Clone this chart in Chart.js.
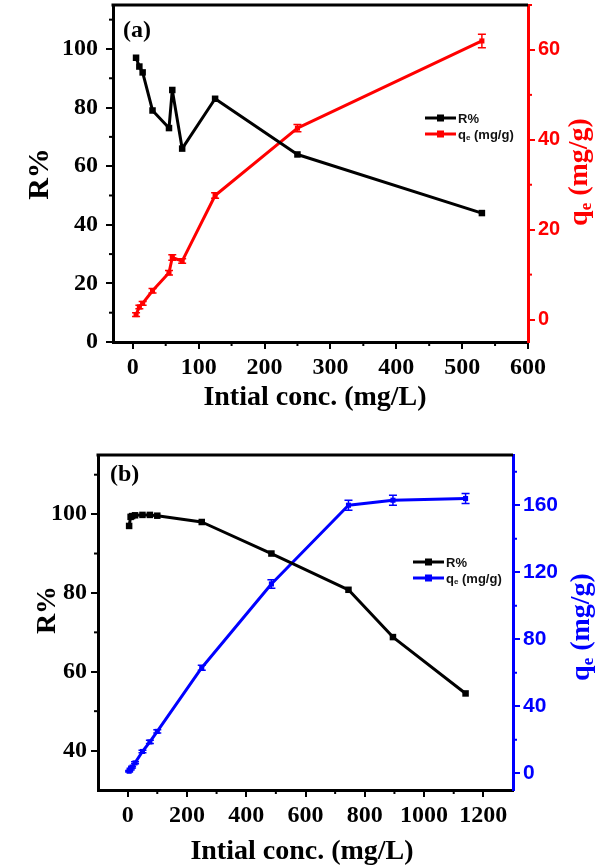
<!DOCTYPE html>
<html>
<head>
<meta charset="utf-8">
<script src="https://cdn.jsdelivr.net/npm/chart.js@4.4.1/dist/chart.umd.min.js"></script>
<style>
  body { margin: 0; background: #fff; }
  canvas { position: absolute; left: 0; }
  #chartA { top: 0; }
  #chartB { top: 420px; }
</style>
</head>
<body>
<canvas id="chartA" width="610" height="420"></canvas>
<canvas id="chartB" width="610" height="448"></canvas>
<script>
/* eslint-disable no-undef */
// datos del panel (a)
const concA = [5, 10, 15, 30, 55, 60, 75, 125, 250, 530]
const removalA = [97, 94, 92, 79, 73, 86, 66, 83, 64, 44]
const qeA = [1.1, 2.8, 3.6, 6.4, 10.4, 13.8, 13, 27.6, 42.6, 62]
const qeErrA = [0.4, 0.4, 0.4, 0.5, 0.5, 0.6, 0.5, 0.6, 0.8, 1.5]

// datos del panel (b)
const concB = [5, 10, 15, 25, 50, 75, 100, 250, 485, 745, 895, 1140]
const removalB = [97, 99.3, 99.5, 99.7, 99.8, 99.8, 99.6, 98, 90, 80.8, 68.8, 54.5]
const qeB = [1.2, 2.5, 3.7, 6.2, 13, 18.7, 25, 63, 113, 160, 163, 164]
const qeErrB = [0.5, 0.5, 0.5, 0.6, 0.8, 1, 1, 1.5, 2.5, 3, 3, 3]

// marcas de los ejes
const xTicksA = [0, 100, 200, 300, 400, 500, 600]
const xMinorA = [50, 150, 250, 350, 450, 550]
const yTicksA = [0, 20, 40, 60, 80, 100]
const yMinorA = [10, 30, 50, 70, 90, 110]
const y1TicksA = [0, 20, 40, 60]
const y1MinorA = [10, 30, 50, 70]

const xTicksB = [0, 200, 400, 600, 800, 1000, 1200]
const xMinorB = [100, 300, 500, 700, 900, 1100]
const yTicksB = [40, 60, 80, 100]
const yMinorB = [50, 70, 90, 110]
const y1TicksB = [0, 40, 80, 120, 160]
const y1MinorB = [20, 60, 100, 140, 180]

const serif = "'Liberation Serif', 'Times New Roman', serif"
const sans = "'Liberation Sans', Arial, sans-serif"

// dibuja "q" con subindice "e" y el resto del texto
function drawQe (ctx, x, y, size, font, rest) {
  ctx.font = `bold ${size}px ${font}`
  ctx.fillText('q', x, y)
  const wq = ctx.measureText('q').width
  ctx.font = `bold ${Math.round(size * 0.6)}px ${font}`
  ctx.fillText('e', x + wq, y + size * 0.22)
  const we = ctx.measureText('e').width
  ctx.font = `bold ${size}px ${font}`
  ctx.fillText(rest, x + wq + we, y)
}
function widthQe (ctx, size, font, rest) {
  ctx.font = `bold ${size}px ${font}`
  const a = ctx.measureText('q').width + ctx.measureText(rest).width
  ctx.font = `bold ${Math.round(size * 0.6)}px ${font}`
  return a + ctx.measureText('e').width
}

const extras = {
  id: 'extras',
  afterDatasetsDraw (chart) {
    const ctx = chart.ctx
    const x = chart.scales.x
    const y1 = chart.scales.y1
    chart.data.datasets.forEach(ds => {
      if (!ds.errorBars) return
      ctx.save()
      ctx.strokeStyle = ds.borderColor
      ctx.lineWidth = 1.5
      ds.data.forEach((p, i) => {
        const px = x.getPixelForValue(p.x)
        const hi = y1.getPixelForValue(p.y + ds.errorBars[i])
        const lo = y1.getPixelForValue(p.y - ds.errorBars[i])
        ctx.beginPath()
        ctx.moveTo(px, hi); ctx.lineTo(px, lo)
        ctx.moveTo(px - 4, hi); ctx.lineTo(px + 4, hi)
        ctx.moveTo(px - 4, lo); ctx.lineTo(px + 4, lo)
        ctx.stroke()
      })
      ctx.restore()
    })
  },
  afterDraw (chart, args, o) {
    const ctx = chart.ctx
    const { left, right, top, bottom } = chart.chartArea
    const sx = chart.scales.x
    const sy = chart.scales.y
    const sy1 = chart.scales.y1
    ctx.save()
    // borde superior
    ctx.strokeStyle = '#000'
    ctx.lineWidth = 3
    ctx.beginPath()
    ctx.moveTo(left - 1.5, top)
    ctx.lineTo(right, top)
    ctx.stroke()
    // marcas menores
    ctx.lineWidth = 2
    o.minorX.forEach(v => {
      const p = sx.getPixelForValue(v)
      ctx.beginPath(); ctx.moveTo(p, bottom); ctx.lineTo(p, bottom + 4); ctx.stroke()
    })
    o.minorY.forEach(v => {
      const p = sy.getPixelForValue(v)
      ctx.beginPath(); ctx.moveTo(left, p); ctx.lineTo(left - 4, p); ctx.stroke()
    })
    ctx.strokeStyle = o.color
    o.minorY1.forEach(v => {
      const p = sy1.getPixelForValue(v)
      ctx.beginPath(); ctx.moveTo(right, p); ctx.lineTo(right + 4, p); ctx.stroke()
    })

    // titulos de los ejes
    ctx.fillStyle = '#000'
    ctx.textBaseline = 'middle'
    ctx.textAlign = 'center'
    ctx.font = `bold 28px ${serif}`
    ctx.fillText('Intial conc. (mg/L)', o.xTitle[0], o.xTitle[1])
    ctx.save()
    ctx.translate(o.yTitle[0], o.yTitle[1])
    ctx.rotate(-Math.PI / 2)
    ctx.font = `bold ${o.yTitleSize}px ${serif}`
    ctx.fillText('R%', 0, 0)
    ctx.restore()
    ctx.save()
    ctx.fillStyle = o.color
    ctx.textAlign = 'left'
    ctx.translate(o.y1Title[0], o.y1Title[1])
    ctx.rotate(-Math.PI / 2)
    const w = widthQe(ctx, 28, serif, ' (mg/g)')
    drawQe(ctx, -w / 2, 0, 28, serif, ' (mg/g)')
    ctx.restore()

    // etiqueta del panel
    ctx.textAlign = 'left'
    ctx.textBaseline = 'alphabetic'
    ctx.font = `bold 24px ${serif}`
    ctx.fillText(o.panel, o.panelPos[0], o.panelPos[1])

    // leyenda
    const lg = o.legend
    const rows = [['#000', 'R%'], [o.color, null]]
    rows.forEach((r, i) => {
      const yy = lg[1] + i * lg[2]
      ctx.strokeStyle = r[0]
      ctx.lineWidth = 3
      ctx.beginPath(); ctx.moveTo(lg[0], yy); ctx.lineTo(lg[0] + 31, yy); ctx.stroke()
      ctx.fillStyle = r[0]
      ctx.fillRect(lg[0] + 12, yy - 3.5, 7, 7)
      ctx.fillStyle = '#111'
      ctx.textBaseline = 'middle'
      if (r[1]) {
        ctx.font = `bold 13px ${sans}`
        ctx.fillText(r[1], lg[0] + 33, yy + 1)
      } else {
        ctx.font = `bold 13px ${sans}`
        ctx.fillText('q', lg[0] + 33, yy + 1)
        const wq = ctx.measureText('q').width
        ctx.font = `bold 8px ${sans}`
        ctx.fillText('e', lg[0] + 33 + wq, yy + 4)
        const we = ctx.measureText('e').width
        ctx.font = `bold 13px ${sans}`
        ctx.fillText(' (mg/g)', lg[0] + 33 + wq + we, yy + 1)
      }
    })
    ctx.restore()
  }
}

function toPoints (xs, ys) {
  return xs.map((v, i) => ({ x: v, y: ys[i] }))
}

function crearGrafica (id, cfg) {
  const ctx = document.getElementById(id).getContext('2d')
  return new Chart(ctx, {
    type: 'line',
    data: {
      datasets: [
        {
          label: 'R%',
          data: toPoints(cfg.conc, cfg.removal),
          yAxisID: 'y',
          borderColor: '#000',
          backgroundColor: '#000',
          borderWidth: 3,
          borderJoinStyle: 'round',
          pointStyle: 'rect',
          pointRadius: 4.6,
          pointBorderWidth: 0,
          tension: 0
        },
        {
          label: 'qe (mg/g)',
          data: toPoints(cfg.conc, cfg.qe),
          errorBars: cfg.err,
          yAxisID: 'y1',
          borderColor: cfg.color,
          backgroundColor: cfg.color,
          borderWidth: 3,
          borderJoinStyle: 'round',
          pointStyle: 'rect',
          pointRadius: 3.6,
          pointBorderWidth: 0,
          tension: 0
        }
      ]
    },
    options: {
      responsive: false,
      animation: false,
      layout: { padding: { top: cfg.padTop, left: 0, right: 0, bottom: 0 } },
      plugins: {
        legend: { display: false },
        tooltip: { enabled: false },
        extras: cfg.extras
      },
      scales: {
        x: {
          type: 'linear',
          min: cfg.xRange[0],
          max: cfg.xRange[1],
          afterBuildTicks: (s) => { s.ticks = cfg.xTicks.map(v => ({ value: v })) },
          afterFit: (s) => { s.height = cfg.xHeight; s.paddingLeft = 0; s.paddingRight = 0 },
          border: { display: true, color: '#000', width: 3 },
          grid: { drawOnChartArea: false, drawTicks: true, tickLength: 7, color: '#000', lineWidth: 2 },
          ticks: { color: '#000', font: { family: serif, size: cfg.tickSize, weight: 'bold' }, padding: 4, maxRotation: 0, autoSkip: false, callback: v => String(v) }
        },
        y: {
          type: 'linear',
          position: 'left',
          min: cfg.yRange[0],
          max: cfg.yRange[1],
          afterBuildTicks: (s) => { s.ticks = cfg.yTicks.map(v => ({ value: v })) },
          afterFit: (s) => { s.width = cfg.yWidth; s.paddingTop = 0; s.paddingBottom = 0 },
          border: { display: true, color: '#000', width: 3 },
          grid: { drawOnChartArea: false, drawTicks: true, tickLength: 7, color: '#000', lineWidth: 2 },
          ticks: { color: '#000', font: { family: serif, size: cfg.tickSize, weight: 'bold' }, padding: cfg.yPad, callback: v => String(v) }
        },
        y1: {
          type: 'linear',
          position: 'right',
          min: cfg.y1Range[0],
          max: cfg.y1Range[1],
          afterBuildTicks: (s) => { s.ticks = cfg.y1Ticks.map(v => ({ value: v })) },
          afterFit: (s) => { s.width = cfg.y1Width; s.paddingTop = 0; s.paddingBottom = 0 },
          border: { display: true, color: cfg.color, width: 3 },
          grid: { drawOnChartArea: false, drawTicks: true, tickLength: 7, color: cfg.color, lineWidth: 2 },
          ticks: { color: cfg.color, font: { family: sans, size: cfg.y1TickSize, weight: 'bold' }, padding: 3, callback: v => String(v) }
        }
      }
    },
    plugins: [extras]
  })
}

crearGrafica('chartA', {
  conc: concA,
  removal: removalA,
  qe: qeA,
  err: qeErrA,
  color: '#ff0000',
  padTop: 5,
  xRange: [-30, 600],
  yRange: [0, 115],
  y1Range: [-5, 70],
  xTicks: xTicksA,
  yTicks: yTicksA,
  y1Ticks: y1TicksA,
  xHeight: 78,
  yWidth: 113,
  y1Width: 82,
  tickSize: 24,
  y1TickSize: 20,
  yPad: 8,
  extras: {
    color: '#ff0000',
    minorX: xMinorA,
    minorY: yMinorA,
    minorY1: y1MinorA,
    xTitle: [315, 398],
    yTitle: [40, 174],
    yTitleSize: 30,
    y1Title: [580, 172],
    panel: '(a)',
    panelPos: [123, 37],
    legend: [425, 118, 16]
  }
})

crearGrafica('chartB', {
  conc: concB,
  removal: removalB,
  qe: qeB,
  err: qeErrB,
  color: '#0000ff',
  padTop: 35,
  xRange: [-100, 1300],
  yRange: [30, 115],
  y1Range: [-10, 190],
  xTicks: xTicksB,
  yTicks: yTicksB,
  y1Ticks: y1TicksB,
  xHeight: 78,
  yWidth: 98,
  y1Width: 97,
  tickSize: 24,
  y1TickSize: 21,
  yPad: 4,
  extras: {
    color: '#0000ff',
    minorX: xMinorB,
    minorY: yMinorB,
    minorY1: y1MinorB,
    xTitle: [302, 432],
    yTitle: [48, 190],
    yTitleSize: 28,
    y1Title: [582, 207],
    panel: '(b)',
    panelPos: [110, 61],
    legend: [413, 142, 16]
  }
})
</script>
</body>
</html>
